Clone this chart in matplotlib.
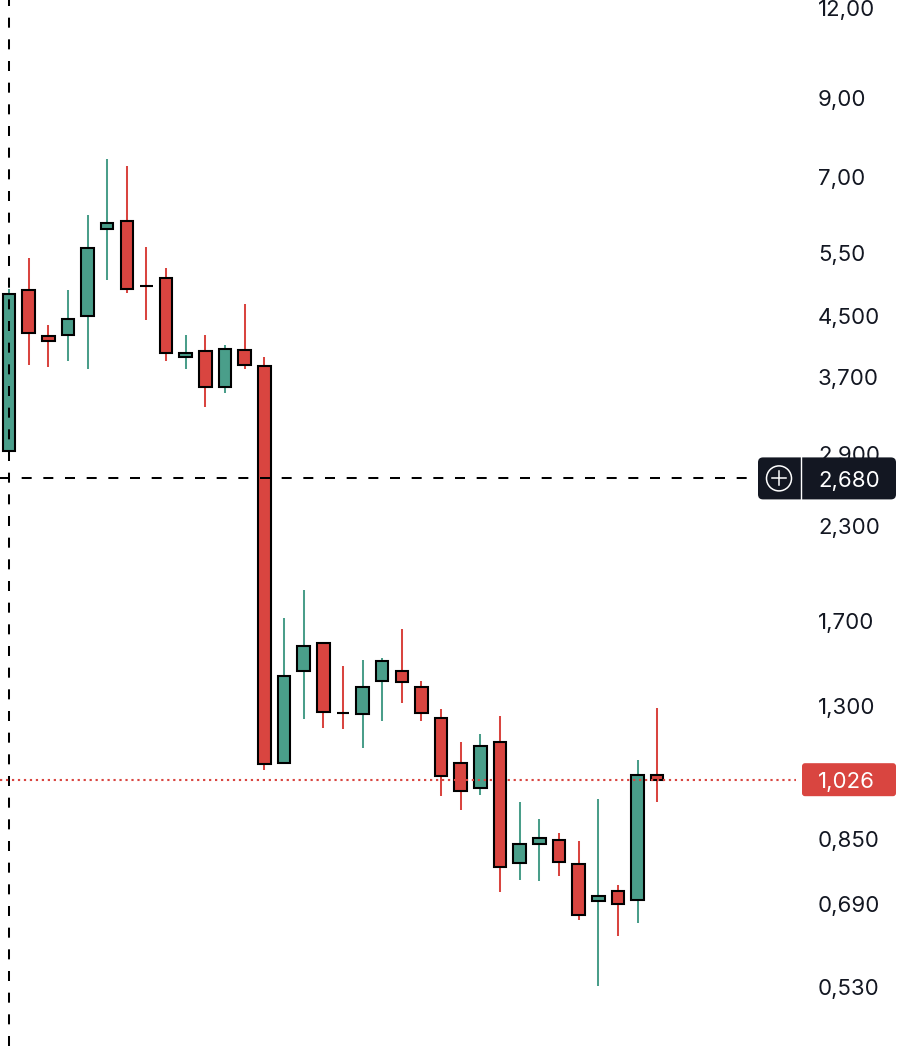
import matplotlib
matplotlib.use("Agg")
import matplotlib.pyplot as plt
import numpy as np
from matplotlib.patches import FancyBboxPatch, Circle
from matplotlib.lines import Line2D
from matplotlib.transforms import IdentityTransform, blended_transform_factory, offset_copy

plt.rcParams['font.family'] = ['Inter', 'DejaVu Sans']
plt.rcParams['lines.scale_dashes'] = False

# ---------------- data ----------------
opens = [2.925, 4.885, 4.219, 4.232, 4.497, 5.934, 6.087, 4.948, 5.076, 3.946,
         4.023, 3.587, 4.035, 3.834, 1.082, 1.451, 1.586, 1.269, 1.265, 1.405,
         1.451, 1.379, 1.249, 1.082, 0.999, 1.157, 0.787, 0.836, 0.847, 0.784,
         0.697, 0.720, 0.699, 1.042]
highs = [4.901, 5.409, 4.369, 4.885, 6.204, 7.416, 7.253, 5.603, 5.240, 4.232,
         4.232, 4.100, 4.672, 3.946, 1.718, 1.878, 1.590, 1.474, 1.503, 1.512,
         1.659, 1.405, 1.285, 1.157, 1.187, 1.257, 0.956, 0.905, 0.866, 0.844,
         0.965, 0.734, 1.093, 1.289]
lows = [2.878, 3.847, 3.822, 3.897, 3.798, 5.044, 4.839, 4.440, 3.897, 3.798,
        3.365, 3.519, 3.798, 1.058, 1.079, 1.245, 1.210, 1.206, 1.135, 1.237,
        1.310, 1.237, 0.974, 0.932, 0.977, 0.717, 0.745, 0.743, 0.755, 0.656,
        0.532, 0.623, 0.650, 0.956]
closes = [4.824, 4.260, 4.152, 4.454, 5.585, 6.048, 4.901, 4.948, 3.997, 3.997,
          3.587, 4.048, 3.847, 1.079, 1.428, 1.571, 1.273, 1.269, 1.379, 1.498,
          1.401, 1.269, 1.038, 0.990, 1.142, 0.777, 0.836, 0.852, 0.789, 0.667,
          0.708, 0.690, 1.042, 1.026]

tick_values = [12.0, 9.0, 7.0, 5.5, 4.5, 3.7, 2.9, 2.3, 1.7, 1.3, 0.85, 0.69, 0.53]
tick_labels = ["12,00", "9,00", "7,00", "5,50", "4,500", "3,700", "2,900",
               "2,300", "1,700", "1,300", "0,850", "0,690", "0,530"]

last_price = 1.026
last_label = "1,026"
marker_price = 2.68
marker_label = "2,680"

# ---------------- style ----------------
GREEN = '#4A9E8A'
RED = '#D94540'
DARK = '#131722'
TEXT = '#131722'

W, H = 908, 1046
fig = plt.figure(figsize=(W / 100, H / 100), dpi=100)
ax = fig.add_axes([0, 0, 1, 1])
ax.set_yscale('log')
ax.set_ylim(0.4391, 12.31)
ax.set_xlim(-0.458, 45.77)
ax.axis('off')

o = np.array(opens)
c = np.array(closes)
hi = np.array(highs)
lo = np.array(lows)
x = np.arange(len(o))
colors = np.where(c > o, GREEN, RED)

ax.vlines(x, lo, hi, colors=colors, lw=1.45, zorder=2)
ax.bar(x, c - o, bottom=o, width=0.64, color=colors, edgecolor='black',
       linewidth=1.5, zorder=3)

# crosshair / marker lines
dash = (0, (7.2, 8.4))
ax.axvline(0, color='black', lw=1.45, ls=dash, zorder=4)
ax.axhline(marker_price, xmin=0, xmax=757 / W, color='black', lw=1.45, ls=dash, zorder=4)
ax.axhline(last_price, xmin=0, xmax=796 / W, color=RED, lw=1.5, ls=(0, (1.6, 2.7)), zorder=4)

# price scale labels
fs = 16
trans = blended_transform_factory(ax.transAxes, ax.transData)
ttrans = offset_copy(trans, fig=fig, x=0, y=-8.1, units='dots')
for v, s in zip(tick_values, tick_labels):
    ax.text(818 / W, v, s, transform=ttrans, ha='left', va='baseline',
            fontsize=fs, color=TEXT, zorder=5)

ident = IdentityTransform()

# marker label box (2,680)
yp = ax.transData.transform((0, marker_price))[1]
box = FancyBboxPatch((758, yp - 21), 138, 42,
                     boxstyle='round,pad=0,rounding_size=5',
                     fc=DARK, ec='none', transform=ident, zorder=6)
ax.add_patch(box)
ax.add_artist(Line2D([801, 801], [yp - 21, yp + 21], color='white', lw=1.0,
                     transform=ident, zorder=7))
ax.add_patch(Circle((779, yp), 12.5, fill=False, ec='white', lw=1.1,
                    transform=ident, zorder=7))
ax.add_artist(Line2D([772, 786], [yp, yp], color='white', lw=1.1,
                     transform=ident, zorder=7))
ax.add_artist(Line2D([779, 779], [yp - 7, yp + 7], color='white', lw=1.1,
                     transform=ident, zorder=7))
ax.text(818 / W, marker_price, marker_label, transform=ttrans, ha='left',
        va='baseline', fontsize=fs, color='white', zorder=8)

# last price box (1,026)
yl = ax.transData.transform((0, last_price))[1]
box2 = FancyBboxPatch((802, yl - 16.5), 94, 33,
                      boxstyle='round,pad=0,rounding_size=3',
                      fc=RED, ec='none', transform=ident, zorder=6)
ax.add_patch(box2)
ax.text(818 / W, last_price, last_label, transform=ttrans, ha='left',
        va='baseline', fontsize=fs, color='white', zorder=8)

fig.savefig('out.png', dpi=100)
